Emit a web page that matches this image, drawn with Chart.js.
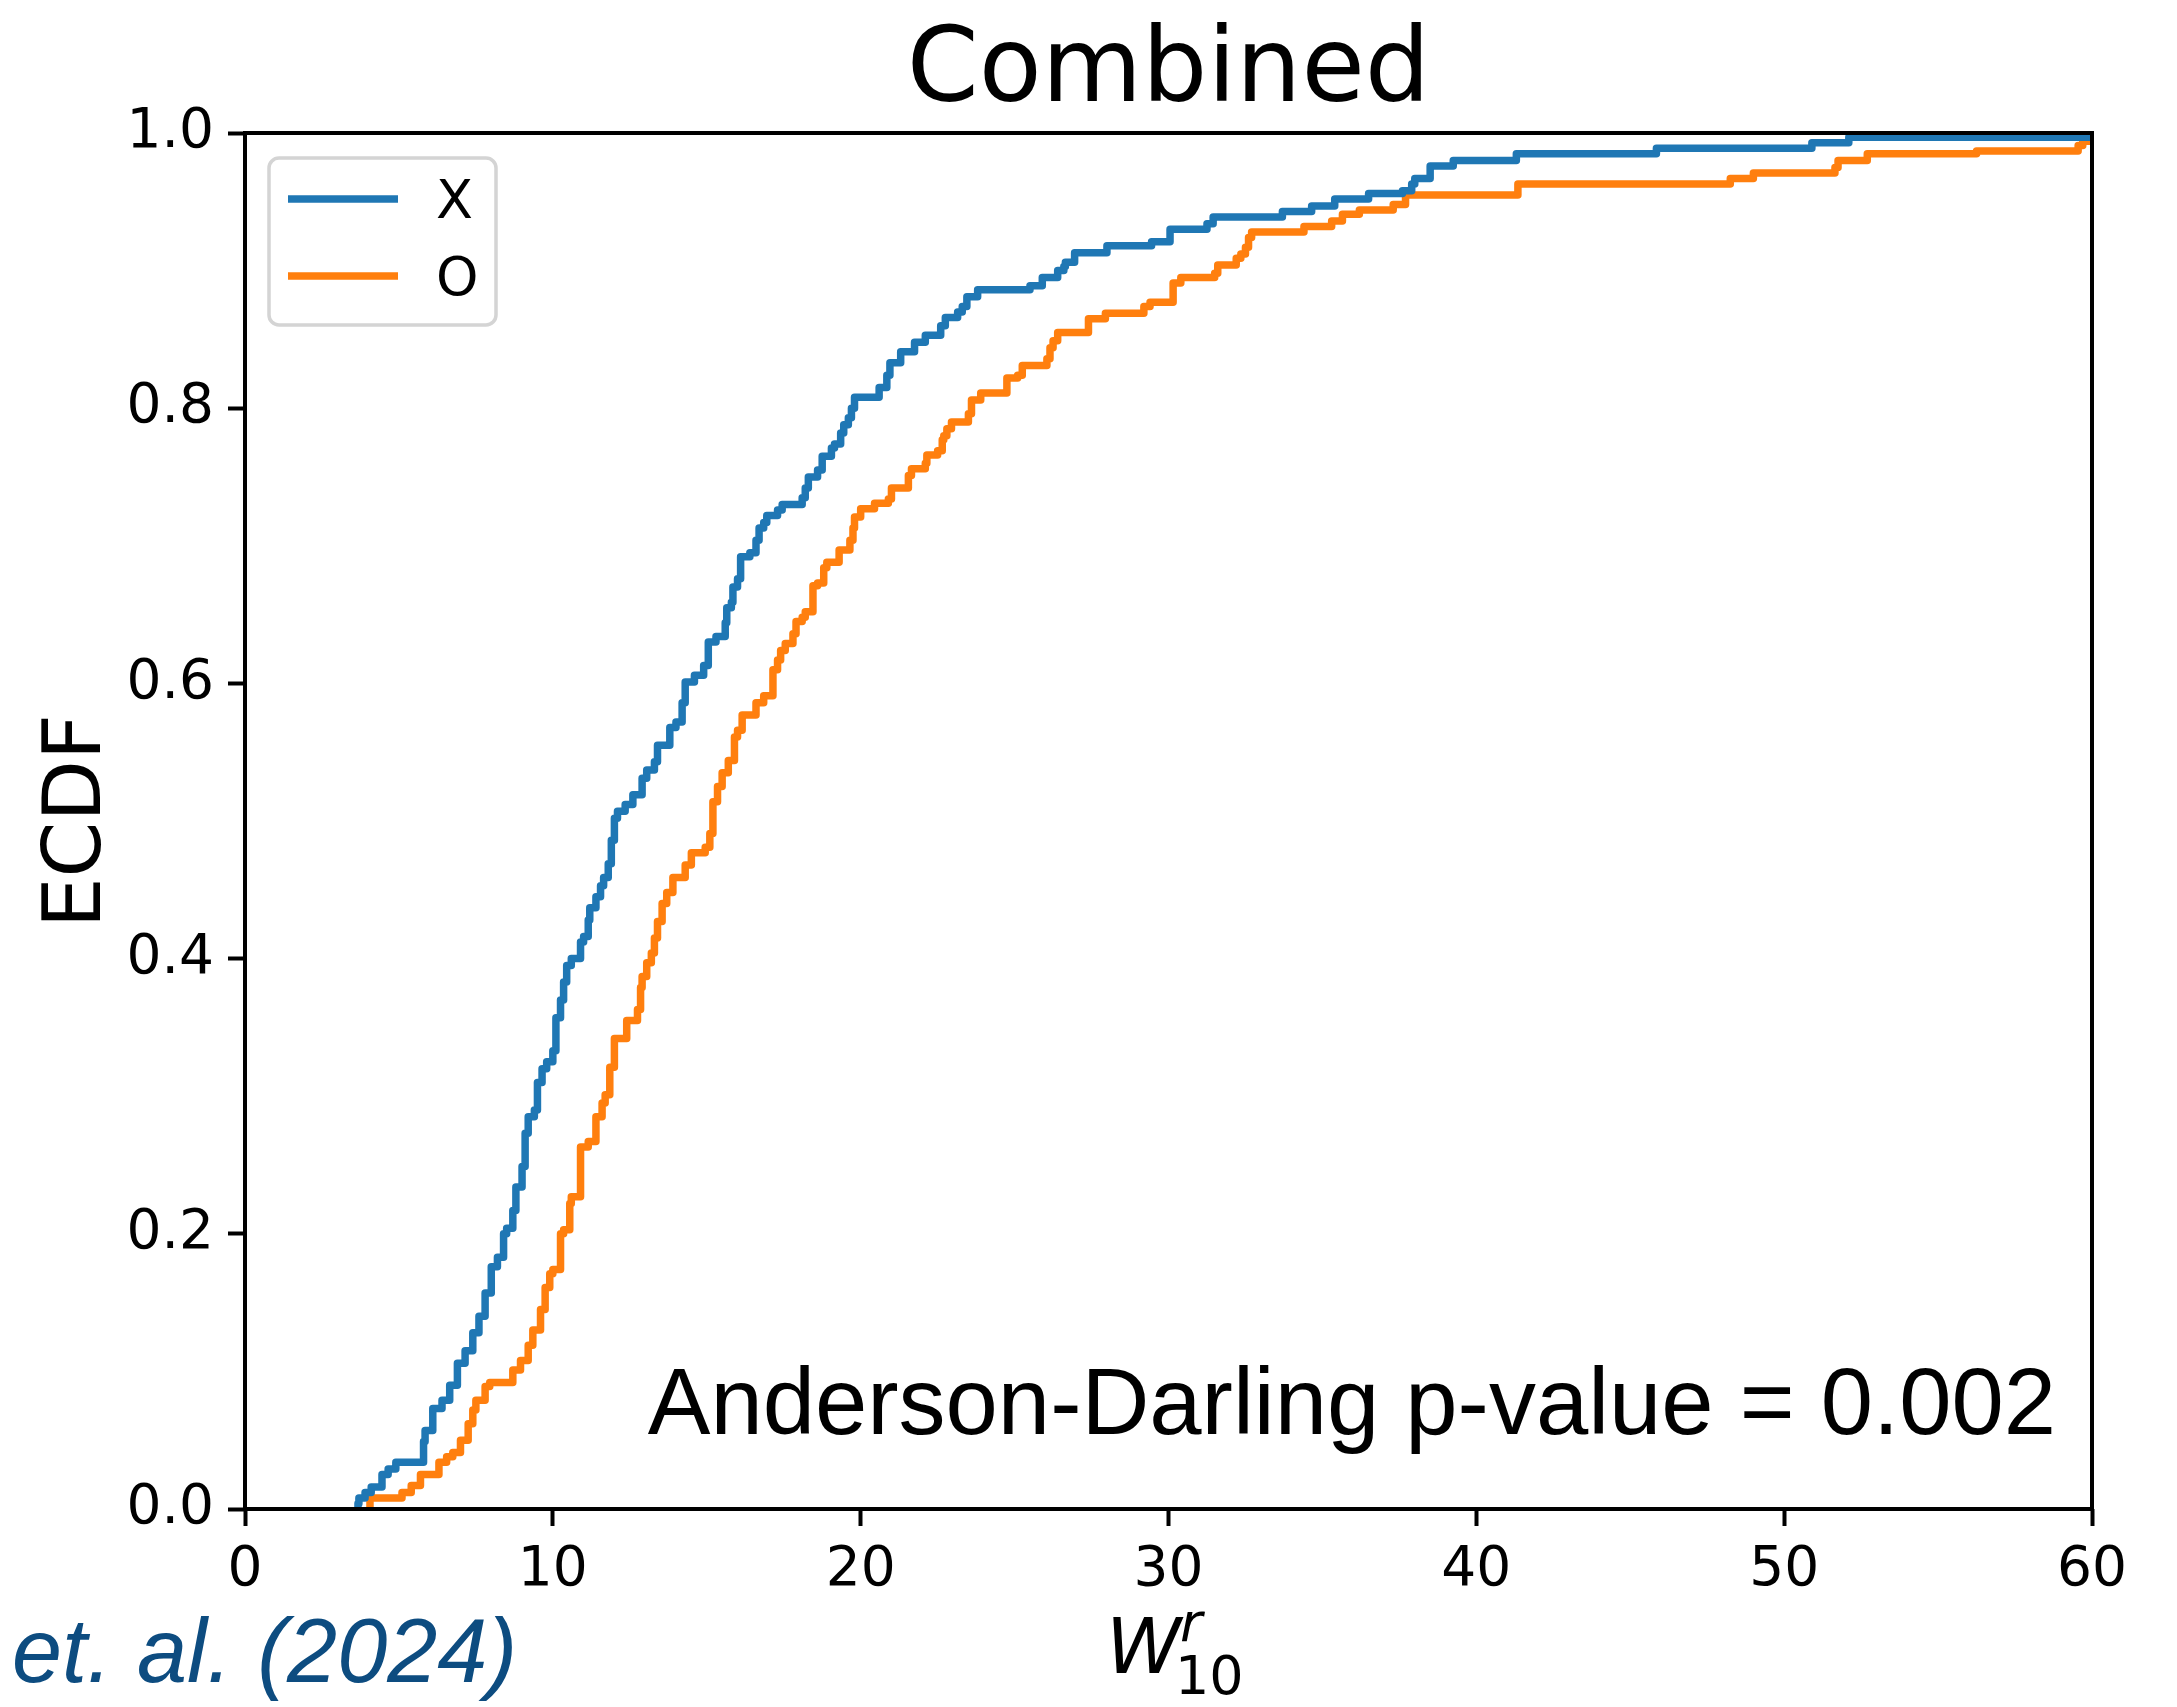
<!DOCTYPE html>
<html>
<head>
<meta charset="utf-8">
<title>Combined ECDF</title>
<script src="https://cdn.jsdelivr.net/npm/chart.js@4.4.1/dist/chart.umd.min.js"></script>
<style>
    html, body { margin: 0; padding: 0; background: #ffffff; }
    #wrap { position: relative; width: 2177px; height: 1707px; }
</style>
</head>
<body>
<div id="wrap"><canvas id="ecdfChart"></canvas></div>
<script>
// Series X (blue): jump locations and ECDF value after each jump
const xValuesX = [3.67, 3.7, 3.9, 4.1, 4.45, 4.65, 4.9, 5.8, 5.85, 6.1, 6.4, 6.65, 6.9, 7.15, 7.4, 7.6, 7.8, 8.0, 8.2, 8.4,
    8.5, 8.7, 8.8, 9.0, 9.1, 9.2, 9.4, 9.5, 9.65, 9.8, 10.0, 10.1, 10.25, 10.35, 10.45, 10.6, 10.9, 11.0, 11.15, 11.2,
    11.4, 11.55, 11.65, 11.8, 11.9, 12.0, 12.1, 12.35, 12.6, 12.9, 13.05, 13.3, 13.4, 13.8, 14.0, 14.2, 14.3, 14.6, 14.9, 15.05,
    15.3, 15.6, 15.65, 15.8, 15.85, 16.0, 16.1, 16.4, 16.6, 16.7, 16.85, 16.95, 17.3, 17.45, 18.1, 18.2, 18.3, 18.6, 18.75, 19.05,
    19.15, 19.35, 19.45, 19.6, 19.7, 19.8, 20.6, 20.85, 20.95, 21.3, 21.75, 22.1, 22.6, 22.75, 23.15, 23.3, 23.45, 23.8, 25.5, 25.9,
    26.4, 26.6, 26.65, 26.95, 28.0, 29.45, 30.05, 31.25, 31.45, 33.7, 34.65, 35.4, 36.5, 37.6, 37.9, 38.0, 38.5, 39.25, 41.3, 45.85,
    50.9, 52.1, 54.65, 60];
const ecdfX = [0.0, 0.004, 0.008, 0.012, 0.016, 0.025, 0.029, 0.034, 0.049, 0.057, 0.073, 0.079, 0.09, 0.106, 0.115, 0.128, 0.14, 0.157, 0.176, 0.183,
    0.2, 0.204, 0.217, 0.234, 0.249, 0.273, 0.285, 0.29, 0.31, 0.32, 0.325, 0.333, 0.357, 0.37, 0.383, 0.395, 0.4, 0.412, 0.416, 0.428,
    0.437, 0.445, 0.453, 0.459, 0.469, 0.486, 0.502, 0.507, 0.512, 0.519, 0.531, 0.537, 0.543, 0.555, 0.568, 0.572, 0.586, 0.601, 0.606, 0.613,
    0.63, 0.634, 0.644, 0.655, 0.659, 0.67, 0.676, 0.692, 0.695, 0.704, 0.713, 0.717, 0.722, 0.726, 0.73, 0.735, 0.742, 0.75, 0.755, 0.765,
    0.771, 0.774, 0.782, 0.788, 0.793, 0.8, 0.808, 0.815, 0.824, 0.833, 0.841, 0.848, 0.853, 0.86, 0.866, 0.87, 0.874, 0.881, 0.886, 0.889,
    0.895, 0.9, 0.903, 0.906, 0.913, 0.918, 0.921, 0.93, 0.934, 0.939, 0.943, 0.947, 0.952, 0.956, 0.958, 0.963, 0.967, 0.976, 0.98, 0.985,
    0.989, 0.993, 0.997, 0.997];

// Series O (orange)
const xValuesO = [4.06, 4.06, 5.1, 5.4, 5.7, 6.3, 6.55, 6.75, 7.0, 7.25, 7.4, 7.5, 7.8, 7.95, 8.7, 8.95, 9.2, 9.35, 9.6, 9.75,
    9.9, 10.0, 10.25, 10.35, 10.55, 10.6, 10.9, 11.15, 11.4, 11.6, 11.7, 11.85, 12.0, 12.4, 12.75, 12.85, 12.9, 13.05, 13.2, 13.3,
    13.4, 13.55, 13.7, 13.9, 14.3, 14.5, 14.95, 15.1, 15.2, 15.35, 15.5, 15.7, 15.9, 16.0, 16.15, 16.6, 16.85, 17.15, 17.3, 17.4,
    17.55, 17.8, 17.9, 18.1, 18.2, 18.45, 18.6, 18.8, 18.9, 19.3, 19.65, 19.75, 19.8, 20.0, 20.45, 20.9, 21.0, 21.55, 21.65, 22.1,
    22.15, 22.5, 22.65, 22.7, 22.8, 22.95, 23.5, 23.6, 23.9, 24.75, 25.1, 25.25, 26.05, 26.15, 26.25, 26.4, 27.4, 27.95, 29.2, 29.4,
    30.15, 30.4, 31.5, 31.6, 32.2, 32.35, 32.5, 32.6, 32.7, 34.4, 35.3, 35.65, 36.2, 37.3, 37.7, 41.35, 48.25, 49.0, 51.65, 51.75,
    52.7, 56.25, 59.55, 59.7, 60];
const ecdfO = [0.0, 0.003, 0.008, 0.012, 0.017, 0.025, 0.034, 0.038, 0.041, 0.05, 0.062, 0.072, 0.079, 0.089, 0.092, 0.101, 0.108, 0.119, 0.13, 0.145,
    0.161, 0.171, 0.174, 0.2, 0.203, 0.222, 0.227, 0.263, 0.267, 0.285, 0.295, 0.301, 0.321, 0.342, 0.355, 0.363, 0.379, 0.387, 0.397, 0.404,
    0.415, 0.427, 0.44, 0.448, 0.459, 0.468, 0.477, 0.481, 0.491, 0.514, 0.525, 0.535, 0.544, 0.561, 0.566, 0.577, 0.586, 0.591, 0.61, 0.617,
    0.624, 0.629, 0.636, 0.645, 0.648, 0.652, 0.671, 0.673, 0.684, 0.688, 0.697, 0.704, 0.713, 0.721, 0.727, 0.731, 0.734, 0.742, 0.751, 0.756,
    0.76, 0.766, 0.769, 0.777, 0.78, 0.785, 0.79, 0.796, 0.806, 0.811, 0.822, 0.824, 0.831, 0.836, 0.844, 0.849, 0.855, 0.865, 0.869, 0.874,
    0.877, 0.891, 0.895, 0.898, 0.904, 0.909, 0.912, 0.917, 0.924, 0.928, 0.932, 0.936, 0.941, 0.944, 0.948, 0.955, 0.963, 0.967, 0.971, 0.975,
    0.98, 0.985, 0.987, 0.991, 0.994];

// Axis ticks
const xTicks = [0, 10, 20, 30, 40, 50, 60];
const xTickLabels = ['0', '10', '20', '30', '40', '50', '60'];
const yTicks = [0, 0.2, 0.4, 0.6, 0.8, 1.0];
const yTickLabels = ['0.0', '0.2', '0.4', '0.6', '0.8', '1.0'];

const seriesNames = ['X', 'O'];
const BLUE = '#1f77b4';
const ORANGE = '#ff7f0e';

function toPoints(xs, ys) {
    return xs.map((x, i) => ({ x: x, y: ys[i] }));
}

// Draws frame, title, axis labels, legend and annotations
const decorPlugin = {
    id: 'decor',
    afterDraw(chart) {
        const ctx = chart.ctx;
        const a = chart.chartArea;
        ctx.save();

        // Axes box
        ctx.strokeStyle = '#000000';
        ctx.lineWidth = 4;
        ctx.strokeRect(a.left, a.top, a.right - a.left, a.bottom - a.top);

        // Title
        ctx.fillStyle = '#000000';
        ctx.font = '103px "DejaVu Sans"';
        ctx.textAlign = 'center';
        ctx.textBaseline = 'alphabetic';
        ctx.fillText('Combined', (a.left + a.right) / 2, 101);

        // Y axis label
        ctx.save();
        ctx.translate(100, (a.top + a.bottom) / 2);
        ctx.rotate(-Math.PI / 2);
        ctx.font = '80px "DejaVu Sans"';
        ctx.fillText('ECDF', 0, 0);
        ctx.restore();

        // X axis label: W with superscript r and subscript 10
        ctx.textAlign = 'left';
        ctx.font = 'italic 76px "DejaVu Sans"';
        ctx.fillText('W', 1106, 1673);
        ctx.font = 'italic 54px "DejaVu Sans"';
        ctx.fillText('r', 1180, 1641);
        ctx.font = '54px "DejaVu Sans"';
        ctx.fillText('10', 1175, 1694);

        // Test annotation
        ctx.textAlign = 'right';
        ctx.font = '94px "Liberation Sans"';
        ctx.fillText('Anderson-Darling p-value = 0.002', 2056, 1434);

        // Source credit
        ctx.textAlign = 'left';
        ctx.fillStyle = '#0d4c80';
        ctx.font = 'italic 90px "Liberation Sans"';
        ctx.fillText('et. al. (2024)', 12, 1682);

        // Legend
        ctx.beginPath();
        ctx.roundRect(269, 158, 227, 167, 10);
        ctx.fillStyle = 'rgba(255,255,255,0.8)';
        ctx.fill();
        ctx.strokeStyle = '#d4d4d4';
        ctx.lineWidth = 3.5;
        ctx.stroke();

        const legendColors = [BLUE, ORANGE];
        const legendRows = [199, 276];
        ctx.lineWidth = 7.5;
        ctx.font = '54px "DejaVu Sans"';
        ctx.textAlign = 'left';
        seriesNames.forEach((name, i) => {
            ctx.strokeStyle = legendColors[i];
            ctx.beginPath();
            ctx.moveTo(288, legendRows[i]);
            ctx.lineTo(398, legendRows[i]);
            ctx.stroke();
            ctx.fillStyle = '#000000';
            ctx.fillText(name, 436, legendRows[i] + 19);
        });

        ctx.restore();
    }
};

document.addEventListener('DOMContentLoaded', () => {
    const ctx = document.getElementById('ecdfChart').getContext('2d');

    new Chart(ctx, {
        type: 'line',
        data: {
            datasets: [
                {
                    label: seriesNames[0],
                    data: toPoints(xValuesX, ecdfX),
                    borderColor: BLUE,
                    borderWidth: 7.5,
                    stepped: 'after',
                    pointRadius: 0,
                    fill: false,
                    borderJoinStyle: 'round'
                },
                {
                    label: seriesNames[1],
                    data: toPoints(xValuesO, ecdfO),
                    borderColor: ORANGE,
                    borderWidth: 7.5,
                    stepped: 'after',
                    pointRadius: 0,
                    fill: false,
                    borderJoinStyle: 'round'
                }
            ]
        },
        options: {
            responsive: true,
            maintainAspectRatio: false,
            animation: false,
            layout: { padding: { top: 133, right: 85, left: 0, bottom: 0 } },
            plugins: {
                legend: { display: false },
                title: { display: false },
                tooltip: { enabled: false }
            },
            scales: {
                x: {
                    type: 'linear',
                    min: 0,
                    max: 60,
                    afterBuildTicks: scale => { scale.ticks = xTicks.map(v => ({ value: v })); },
                    afterFit: scale => { scale.height = 198; },
                    border: { display: false },
                    grid: {
                        drawOnChartArea: false,
                        drawTicks: true,
                        tickLength: 17,
                        tickWidth: 4,
                        tickColor: '#000000'
                    },
                    ticks: {
                        padding: 12,
                        color: '#000000',
                        font: { family: 'DejaVu Sans', size: 55 },
                        maxRotation: 0,
                        callback: (val, i) => xTickLabels[i]
                    }
                },
                y: {
                    type: 'linear',
                    min: 0,
                    max: 1,
                    afterBuildTicks: scale => { scale.ticks = yTicks.map(v => ({ value: v })); },
                    afterFit: scale => { scale.width = 245; },
                    border: { display: false },
                    grid: {
                        drawOnChartArea: false,
                        drawTicks: true,
                        tickLength: 17,
                        tickWidth: 4,
                        tickColor: '#000000'
                    },
                    ticks: {
                        padding: 14,
                        color: '#000000',
                        font: { family: 'DejaVu Sans', size: 55 },
                        callback: (val, i) => yTickLabels[i]
                    }
                }
            }
        },
        plugins: [decorPlugin]
    });
});
</script>
</body>
</html>
